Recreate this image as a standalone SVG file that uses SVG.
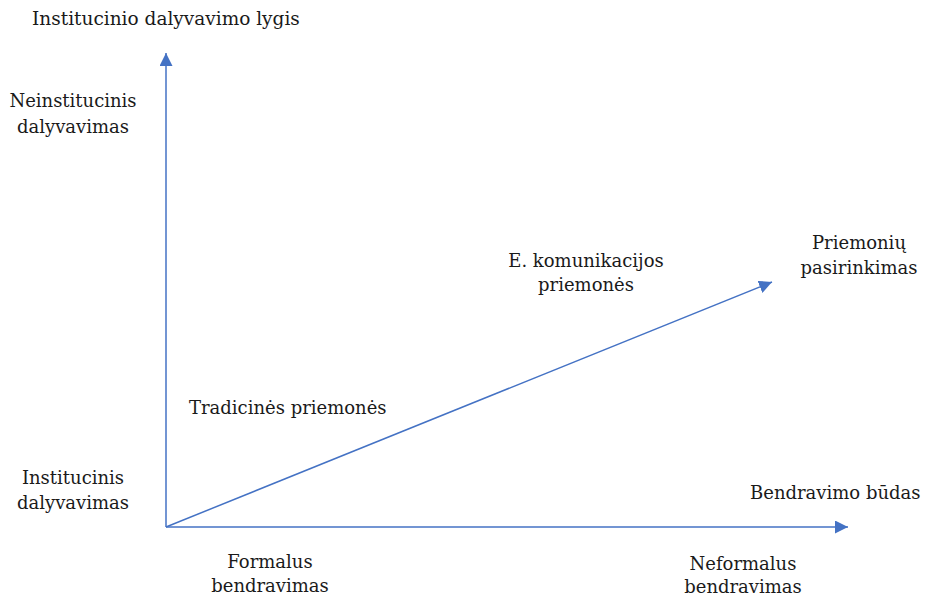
<svg xmlns="http://www.w3.org/2000/svg" width="927" height="599" viewBox="0 0 927 599">
<style>
text{font-family:"DejaVu Serif","Liberation Serif",serif;font-size:18px;fill:#1a1a1a}
.c{text-anchor:middle}
.ln{stroke:#4472C4;stroke-width:1.5;fill:none}
</style>
<defs>
<marker id="ahb" viewBox="0 0 10 10" refX="10" refY="5" markerWidth="13" markerHeight="13" markerUnits="userSpaceOnUse" orient="auto">
<path d="M0,0 L10,5 L0,10 Z" fill="#4472C4"/>
</marker>
</defs>
<g id="connectors">
<line class="ln" x1="166" y1="527" x2="166" y2="53" marker-end="url(#ahb)"/>
<line class="ln" x1="166" y1="527" x2="848" y2="527" marker-end="url(#ahb)"/>
<line class="ln" x1="166" y1="527" x2="772" y2="282" marker-end="url(#ahb)"/>
</g>
<g id="y-axis-title"><text x="32" y="25" style="font-size:18.5px">Institucinio dalyvavimo lygis</text></g>
<g id="neinstitucinis"><text class="c" x="73" y="107">Neinstitucinis</text><text class="c" x="73" y="133">dalyvavimas</text></g>
<g id="institucinis"><text class="c" x="73" y="484">Institucinis</text><text class="c" x="73" y="509">dalyvavimas</text></g>
<g id="ekom"><text class="c" x="586" y="267">E. komunikacijos</text><text class="c" x="586" y="291">priemonės</text></g>
<g id="priemoniu"><text class="c" x="859" y="249">Priemonių</text><text class="c" x="859" y="274">pasirinkimas</text></g>
<g id="tradicines"><text x="189" y="414">Tradicinės priemonės</text></g>
<g id="x-axis-title"><text x="750" y="499">Bendravimo būdas</text></g>
<g id="formalus"><text class="c" x="270" y="568">Formalus</text><text class="c" x="270" y="592">bendravimas</text></g>
<g id="neformalus"><text class="c" x="743" y="570">Neformalus</text><text class="c" x="743" y="593">bendravimas</text></g>
</svg>
